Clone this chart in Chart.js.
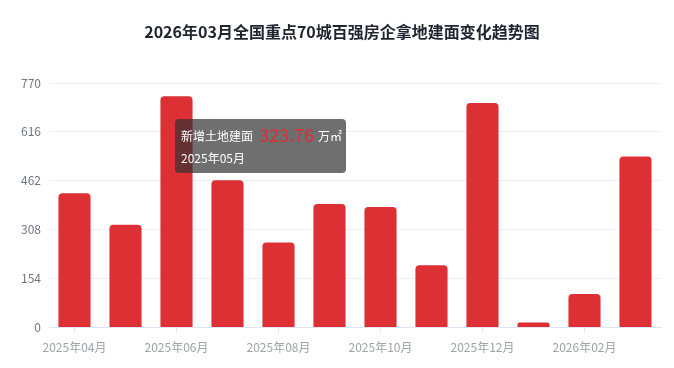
<!DOCTYPE html>
<html>
<head>
<meta charset="utf-8">
<script src="https://cdn.jsdelivr.net/npm/chart.js@4/dist/chart.umd.min.js"></script>
<style>
  html, body { margin: 0; padding: 0; background: #fff; }
  #wrap { width: 674px; height: 368px; }
</style>
</head>
<body>
<div id="wrap"><canvas id="chartLand"></canvas></div>
<script>
const titleText = '2026年03月全国重点70城百强房企拿地建面变化趋势图';
const months = ['2025年04月', '2025年05月', '2025年06月', '2025年07月', '2025年08月', '2025年09月',
                '2025年10月', '2025年11月', '2025年12月', '2026年01月', '2026年02月', '2026年03月'];
const landArea = [423, 323.76, 728, 464, 268, 389, 380, 196, 707, 16, 106, 539];
const yTicks = [0, 154, 308, 462, 616, 770];
const seriesName = '新增土地建面';
const unit = '万㎡';
const tipIndex = 1;

const FONT = '"Noto Sans CJK SC", "Noto Sans", sans-serif';
const RED = '#dc3035';

// title centred on the whole canvas (not on the padded box)
const titlePlugin = {
    id: 'pageTitle',
    afterDraw(chart) {
        const ctx = chart.ctx;
        ctx.save();
        ctx.fillStyle = '#1f2430';
        ctx.font = 'bold 16px ' + FONT;
        ctx.textAlign = 'center';
        ctx.textBaseline = 'middle';
        ctx.fillText(titleText, chart.width / 2 + 5, 32);
        ctx.restore();
    }
};

// draws the echarts-like tooltip for one bar
const tipPlugin = {
    id: 'fixedTip',
    afterDraw(chart) {
        const ctx = chart.ctx;
        const bar = chart.getDatasetMeta(0).data[tipIndex];
        const x = bar.x + 49.5;
        const y = chart.chartArea.top + 36;
        const w = 171, h = 54;
        ctx.save();
        ctx.fillStyle = 'rgba(50,50,50,0.7)';
        ctx.beginPath();
        ctx.roundRect(x, y, w, h, 4);
        ctx.fill();
        ctx.textBaseline = 'middle';
        ctx.textAlign = 'left';
        ctx.fillStyle = '#fff';
        ctx.font = '12px ' + FONT;
        let tx = x + 6;
        ctx.fillText(seriesName, tx, y + 17);
        tx += ctx.measureText(seriesName).width + 6;
        ctx.fillStyle = RED;
        ctx.font = '18px ' + FONT;
        const v = landArea[tipIndex].toFixed(2);
        ctx.fillText(v, tx, y + 16);
        tx += ctx.measureText(v).width + 4;
        ctx.fillStyle = '#fff';
        ctx.font = '12px ' + FONT;
        ctx.fillText(unit, tx, y + 17);
        ctx.fillText(months[tipIndex], x + 6, y + 39);
        ctx.restore();
    }
};

new Chart(document.getElementById('chartLand').getContext('2d'), {
    type: 'bar',
    data: {
        labels: months,
        datasets: [{
            label: seriesName,
            data: landArea,
            backgroundColor: RED,
            borderRadius: { topLeft: 4, topRight: 4 },
            borderSkipped: 'start',
            barPercentage: 0.63,
            categoryPercentage: 1
        }]
    },
    options: {
        responsive: true,
        maintainAspectRatio: false,
        animation: false,
        layout: { padding: { left: 0, right: 13, top: 83, bottom: 5 } },
        plugins: {
            legend: { display: false },
            tooltip: { enabled: false },
            title: { display: false }
        },
        scales: {
            x: {
                grid: {
                    display: true,
                    offset: false,
                    drawOnChartArea: false,
                    tickLength: 5,
                    color: (c) => (c.index % 2 === 0 ? '#e0e6f1' : 'rgba(0,0,0,0)')
                },
                border: { display: true, color: '#e0e6f1' },
                ticks: {
                    autoSkip: false,
                    maxRotation: 0,
                    padding: 8,
                    color: '#a0a3a8',
                    font: { family: FONT, size: 12 },
                    callback: function (val, i) { return i % 2 === 0 ? this.getLabelForValue(val) : ''; }
                }
            },
            y: {
                min: yTicks[0],
                max: yTicks[yTicks.length - 1],
                afterBuildTicks: (s) => { s.ticks = yTicks.map(v => ({ value: v })); },
                afterFit: (s) => { s.width = 49; },
                grid: { color: '#eef0f5', drawTicks: false },
                border: { display: false },
                ticks: {
                    padding: 8,
                    color: '#6e7785',
                    font: { family: FONT, size: 12 }
                }
            }
        }
    },
    plugins: [titlePlugin, tipPlugin]
});
</script>
</body>
</html>
